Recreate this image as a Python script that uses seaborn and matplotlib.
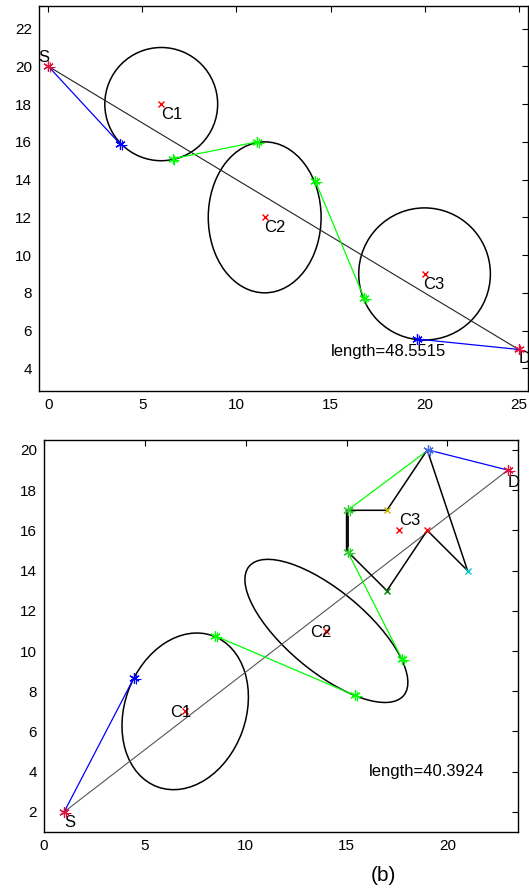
import numpy as np
import pandas as pd
import seaborn as sns
import matplotlib
matplotlib.use('Agg')
import matplotlib.pyplot as plt
from matplotlib.patches import Ellipse

# ---- data: panel (a) ----
top_path_x = [0, 3.8, 6.6, 11.1, 14.2, 16.8, 19.6, 25]
top_path_y = [20, 15.9, 15.1, 16.0, 13.9, 7.7, 5.55, 5]
top_pt_colors = ['crimson', 'blue', 'lime', 'lime', 'lime', 'lime', 'blue', 'crimson']
top_seg_colors = ['blue', None, 'lime', None, 'lime', None, 'blue']  # None = arc on obstacle
top_obs_names = ['C1', 'C2', 'C3']
top_obs_cx = [6, 11.5, 20]
top_obs_cy = [18, 12, 9]
top_obs_w = [6, 6, 7]
top_obs_h = [6, 8, 7]
top_obs_ang = [0, 0, 0]
top_length = 48.5515

# ---- data: panel (b) ----
bot_path_x = [1, 4.45, 8.5, 15.4, 17.75, 15.05, 15.05, 19.05, 23]
bot_path_y = [2, 8.65, 10.75, 7.8, 9.6, 14.95, 17.0, 20.0, 19]
bot_pt_colors = ['crimson', 'blue', 'lime', 'lime', 'lime', 'limegreen', 'limegreen', 'royalblue', 'crimson']
bot_seg_colors = ['blue', None, 'lime', None, 'lime', 'black', 'lime', 'blue']
bot_obs_names = ['C1', 'C2']
bot_obs_cx = [7, 14]
bot_obs_cy = [7, 11]
bot_obs_w = [6, 10]
bot_obs_h = [8, 4]
bot_obs_ang = [-20, -40]
poly_x = [15, 17, 19, 21, 19, 17, 15, 15]
poly_y = [17, 17, 20, 14, 16, 13, 15, 17]
poly_vx = [17, 21, 19, 17]
poly_vy = [17, 14, 16, 13]
poly_vcolors = ['#c8b400', '#00c8c8', 'red', 'green']
c3_center = (17.6, 16)
bot_length = 40.3924

sns.set_theme(style='white')
plt.rcParams['font.family'] = ['Liberation Sans', 'DejaVu Sans']
plt.rcParams['text.color'] = 'black'

fig = plt.figure(figsize=(5.29, 8.92), dpi=100)
ax1 = fig.add_axes([0.0737, 0.5617, 0.9244, 0.4316])
ax2 = fig.add_axes([0.0832, 0.0673, 0.896, 0.4395])


def draw_path(ax, xs, ys, seg_colors, pt_colors):
    for i, c in enumerate(seg_colors):
        if c is None:
            continue
        seg = pd.DataFrame({'x': xs[i:i + 2], 'y': ys[i:i + 2]})
        lw = 1.3 if c == 'black' else 0.9
        sns.lineplot(data=seg, x='x', y='y', sort=False, estimator=None,
                     color=c, lw=lw, ax=ax, legend=False)
    for x, y, c in zip(xs, ys, pt_colors):
        ax.plot(x, y, marker=(6, 2, 0), ms=7.5, mew=0.9, color=c, ls='none', zorder=5)
        ax.plot(x + 0.1, y - 0.05, marker='+', ms=7.5, mew=0.8, color=c, ls='none', zorder=5)


def draw_obstacles(ax, cx, cy, w, h, ang):
    for x, y, ww, hh, a in zip(cx, cy, w, h, ang):
        ax.add_patch(Ellipse((x, y), ww, hh, angle=a, fill=False, ec='black', lw=1.1))
        ax.plot(x, y, marker='x', ms=4.5, mew=1.0, color='red', ls='none')


def style_axes(ax, xlim, ylim, xticks, yticks):
    ax.set_xlim(*xlim)
    ax.set_ylim(*ylim)
    ax.set_xticks(xticks)
    ax.set_yticks(yticks)
    ax.set_xlabel('')
    ax.set_ylabel('')
    ax.tick_params(direction='in', top=True, right=True, length=4, width=0.8,
                   labelsize=11, colors='black', pad=5)
    for s in ax.spines.values():
        s.set_color('black')
        s.set_linewidth(1.0)


# panel (a)
sd = pd.DataFrame({'x': [top_path_x[0], top_path_x[-1]], 'y': [top_path_y[0], top_path_y[-1]]})
sns.lineplot(data=sd, x='x', y='y', sort=False, estimator=None, color='#222222', lw=0.8, ax=ax1)
draw_obstacles(ax1, top_obs_cx, top_obs_cy, top_obs_w, top_obs_h, top_obs_ang)
draw_path(ax1, top_path_x, top_path_y, top_seg_colors, top_pt_colors)
ax1.text(-0.55, 20.45, 'S', fontsize=12, va='center', ha='left')
ax1.text(25.0, 4.5, 'D', fontsize=12, va='center', ha='left', clip_on=True)
ax1.text(6.0, 17.45, 'C1', fontsize=12, va='center', ha='left')
ax1.text(11.45, 11.45, 'C2', fontsize=12, va='center', ha='left')
ax1.text(19.95, 8.45, 'C3', fontsize=12, va='center', ha='left')
ax1.text(15.0, 4.9, f'length={top_length}', fontsize=12, va='center', ha='left')
style_axes(ax1, (-0.5, 25.5), (2.8, 23.2), range(0, 26, 5), range(4, 23, 2))

# panel (b)
sd = pd.DataFrame({'x': [bot_path_x[0], bot_path_x[-1]], 'y': [bot_path_y[0], bot_path_y[-1]]})
sns.lineplot(data=sd, x='x', y='y', sort=False, estimator=None, color='#555555', lw=0.8, ax=ax2)
draw_obstacles(ax2, bot_obs_cx, bot_obs_cy, bot_obs_w, bot_obs_h, bot_obs_ang)
sns.lineplot(x=poly_x, y=poly_y, sort=False, estimator=None, color='black', lw=1.1, ax=ax2)
for x, y, c in zip(poly_vx, poly_vy, poly_vcolors):
    ax2.plot(x, y, marker='x', ms=5, mew=1.0, color=c, ls='none', zorder=5)
ax2.plot(*c3_center, marker='x', ms=4.5, mew=1.0, color='red', ls='none')
draw_path(ax2, bot_path_x, bot_path_y, bot_seg_colors, bot_pt_colors)
ax2.text(1.0, 1.45, 'S', fontsize=12, va='center', ha='left')
ax2.text(23.0, 18.4, 'D', fontsize=12, va='center', ha='left')
ax2.text(6.25, 6.95, 'C1', fontsize=12, va='center', ha='left')
ax2.text(13.2, 10.9, 'C2', fontsize=12, va='center', ha='left')
ax2.text(17.6, 16.5, 'C3', fontsize=12, va='center', ha='left')
ax2.text(16.1, 4.0, f'length={bot_length}', fontsize=12, va='center', ha='left')
style_axes(ax2, (0, 23.5), (1, 20.5), range(0, 21, 5), range(2, 21, 2))

fig.text(0.724, 0.019, '(b)', fontsize=15, ha='center', va='center')

fig.savefig('out.png', dpi=100)
